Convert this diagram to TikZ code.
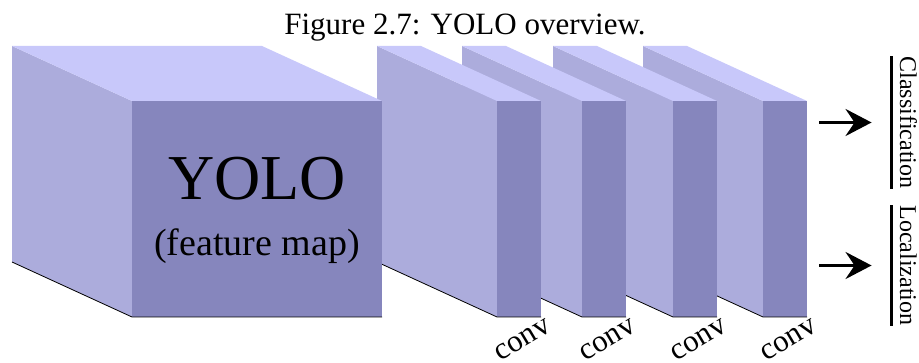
\documentclass[tikz,border=0pt]{standalone}
\usepackage{fontspec}
\setmainfont{Liberation Serif}
\usetikzlibrary{arrows.meta}
\definecolor{faceTop}{RGB}{200,200,250}
\definecolor{faceSide}{RGB}{172,172,220}
\definecolor{faceFront}{RGB}{134,134,189}

\begin{document}
\begin{tikzpicture}[x=1pt, y=-1pt,
    bottomline/.style={black, line width=0.8pt},
    convlbl/.style={font=\fontsize{31}{32}\selectfont, rotate=31, inner sep=0pt},
    headlbl/.style={font=\fontsize{24}{26}\selectfont, rotate=-90, anchor=base, inner xsep=0pt, inner ysep=8pt},
    underbar/.style={black, line width=3pt},
    outarrow/.style={black, line width=3.5pt, -{Stealth[length=26pt, width=27pt, inset=9pt]}}]
  \useasboundingbox (0,0) rectangle (919,363);
  \node[font=\fontsize{31}{34}\selectfont, anchor=base] (caption) at (465,35) {Figure 2.7: YOLO overview.};

  % slabs, far right first so the left ones cover them
  \foreach \f/\w in {763/44, 673/44, 582/44, 497/44, 132/250} {
    \fill[faceSide] (\f-120,46) -- (\f,101) -- (\f,317) -- (\f-120,262) -- cycle;
    \fill[faceTop] (\f-120,46) -- (\f-120+\w,46) -- (\f+\w,101) -- (\f,101) -- cycle;
    \fill[faceFront] (\f,101) rectangle (\f+\w,317);
    \draw[bottomline] (\f-120,262) -- (\f,317) -- (\f+\w,317);
  }
  \node[font=\fontsize{64}{66}\selectfont, anchor=base] (yolo) at (257,200) {YOLO};
  \node[font=\fontsize{38}{40}\selectfont, anchor=base] (fmap) at (257,256) {(feature map)};

  \foreach \f [count=\i] in {497,582,673,763}
    \node[convlbl] (conv\i) at (\f+26,340) {conv};

  \node[headlbl] (cls) at (900,122.5) {Classification};
  \node[headlbl] (loc) at (900,265.5) {Localization};
  \draw[underbar] (cls.south west) -- (cls.south east);
  \draw[underbar] (loc.south west) -- (loc.south east);

  \coordinate (clsIn) at (819,122.5);
  \coordinate (locIn) at (819,265.5);
  \draw[outarrow] (clsIn) -- ([xshift=-20pt]cls.south);
  \draw[outarrow] (locIn) -- ([xshift=-20pt]loc.south);
\end{tikzpicture}
\end{document}
